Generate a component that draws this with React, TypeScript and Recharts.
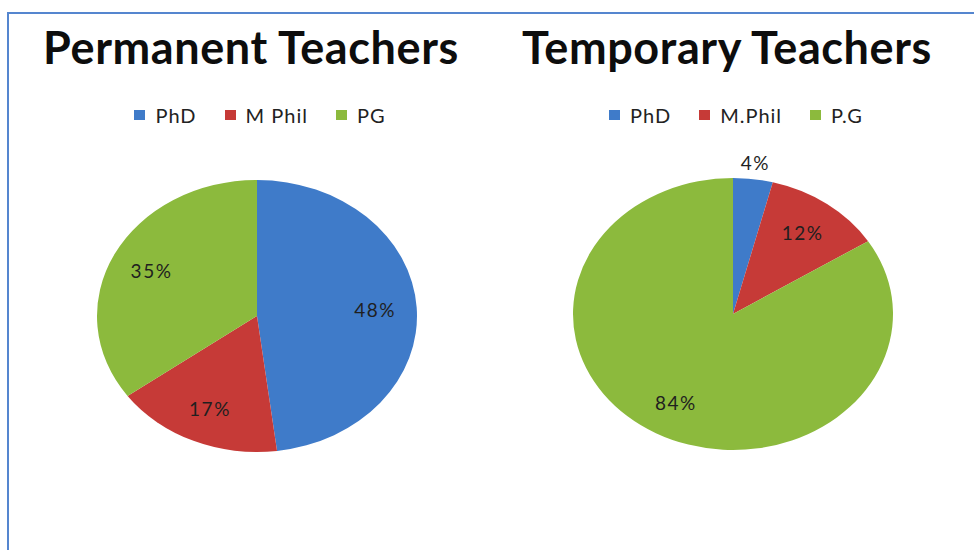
import { Cell, Legend, Pie, PieChart } from "recharts";

const permanentNames = ["PhD", "M Phil", "PG"];
const permanentValues = [48, 17, 35];
const temporaryNames = ["PhD", "M.Phil", "P.G"];
const temporaryValues = [4, 12, 84];
const sliceColors = ["#3F7BC9", "#C63A37", "#8CBA3D"];

const PANEL_W = 470;
const PANEL_H = 530;
const HEADER_H = 130;
const SQUASH = 0.85; // the pies are drawn as ellipses

const RADIAN = Math.PI / 180;

type PanelProps = {
  id: string;
  title: string;
  names: string[];
  values: number[];
  cy: number; // absolute y of the pie centre
};

function makeLabel(cyAbs: number) {
  return (props: any) => {
    const { cx, midAngle, outerRadius, percent } = props;
    const k = percent < 0.06 ? 1.12 : 0.74;
    const x = cx + outerRadius * k * Math.cos(-midAngle * RADIAN);
    const y = cyAbs + outerRadius * SQUASH * k * Math.sin(-midAngle * RADIAN);
    return (
      <text
        x={x}
        y={y}
        textAnchor="middle"
        dominantBaseline="central"
        fontFamily="Lato, sans-serif"
        fontSize={19}
        letterSpacing={1.5}
        fill="#1f1f1f"
      >
        {Math.round(percent * 100)}%
      </text>
    );
  };
}

function TeacherPanel({ id, title, names, values, cy }: PanelProps) {
  const data = names.map((name, i) => ({ name, value: values[i] }));

  const header = () => (
    <div style={{ position: "relative", height: HEADER_H, width: PANEL_W }}>
      <div
        style={{
          position: "absolute",
          top: 25,
          left: -12,
          right: 0,
          textAlign: "center",
          fontFamily: "Lato, sans-serif",
          fontWeight: 700,
          fontSize: 45,
          letterSpacing: 0.6,
          lineHeight: 1,
          color: "#0d0d0d",
        }}
      >
        {title}
      </div>
      <div
        style={{
          position: "absolute",
          top: 105,
          left: 6,
          right: 0,
          display: "flex",
          justifyContent: "center",
          gap: 28,
          fontFamily: "Lato, sans-serif",
          fontSize: 20,
          letterSpacing: 1,
          lineHeight: 1,
          color: "#222",
        }}
      >
        {names.map((name, i) => (
          <span key={name} style={{ display: "flex", alignItems: "center", gap: 10 }}>
            <span style={{ width: 11, height: 10, background: sliceColors[i], display: "inline-block" }} />
            {name}
          </span>
        ))}
      </div>
    </div>
  );

  return (
    <div className={id}>
      <style>{`.${id} path.recharts-sector { transform-box: view-box; transform-origin: ${PANEL_W / 2}px ${cy}px; transform: scaleY(${SQUASH}); }`}</style>
      <PieChart width={PANEL_W} height={PANEL_H} margin={{ top: 0, right: 0, bottom: 0, left: 0 }}>
        <Legend verticalAlign="top" align="center" content={header} />
        <Pie
          data={data}
          dataKey="value"
          nameKey="name"
          cx={PANEL_W / 2}
          cy={cy - HEADER_H}
          outerRadius={160}
          startAngle={90}
          endAngle={-270}
          stroke="none"
          labelLine={false}
          label={makeLabel(cy)}
          isAnimationActive={false}
        >
          {data.map((d, i) => (
            <Cell key={d.name} fill={sliceColors[i]} />
          ))}
        </Pie>
      </PieChart>
    </div>
  );
}

export default function App() {
  return (
    <div
      style={{
        position: "absolute",
        left: 0,
        top: 0,
        width: 974,
        height: 550,
        background: "#fff",
        overflow: "hidden",
      }}
    >
      <div
        style={{
          position: "absolute",
          left: 7,
          top: 12,
          right: -4,
          bottom: -4,
          borderLeft: "2px solid #5586CF",
          borderTop: "2px solid #5586CF",
        }}
      />
      <div style={{ position: "absolute", left: 22, top: 0 }}>
        <TeacherPanel
          id="perm"
          title="Permanent Teachers"
          names={permanentNames}
          values={permanentValues}
          cy={316}
        />
      </div>
      <div style={{ position: "absolute", left: 498, top: 0 }}>
        <TeacherPanel
          id="temp"
          title="Temporary Teachers"
          names={temporaryNames}
          values={temporaryValues}
          cy={314}
        />
      </div>
    </div>
  );
}
